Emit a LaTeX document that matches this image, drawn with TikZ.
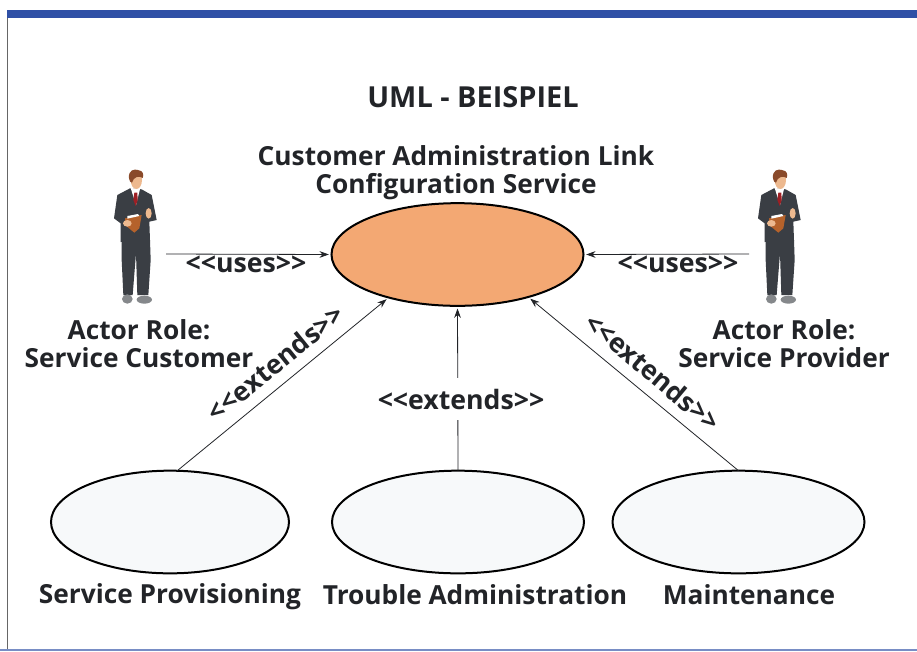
\documentclass[tikz,border=0pt]{standalone}
\usepackage{fontspec}
\setmainfont{Open Sans}
\usetikzlibrary{arrows.meta,shapes.geometric}
\definecolor{ink}{HTML}{222428}
\definecolor{barblue}{HTML}{2F50A6}
\definecolor{mainfill}{HTML}{F3A873}
\definecolor{subfill}{HTML}{F7F9FA}
\definecolor{suit}{HTML}{3A3E44}
\definecolor{skin}{HTML}{EDB98F}
\definecolor{hair}{HTML}{8A4A2A}
\definecolor{folder}{HTML}{B5622B}
\definecolor{tie}{HTML}{9E1F24}
\definecolor{shoe}{HTML}{85888B}
\newcommand{\stereotxt}[1]{<\kern0pt<#1>\kern0pt>}
\tikzset{
  x=0.75pt,y=-0.75pt,
  usecase/.style={draw=black,line width=1.5pt,ellipse,inner sep=0pt,outer sep=0pt,minimum width=189pt,minimum height=77pt},
  title/.style={font=\fontsize{19.7}{21}\selectfont\bfseries,text=ink,align=center,inner sep=0pt},
  label/.style={font=\fontsize{19.7}{21}\selectfont\bfseries,text=ink,align=center,inner sep=0pt},
  stereo/.style={font=\fontsize{20}{22}\selectfont\bfseries,text=ink,inner sep=0pt},
  link/.style={draw=ink,line width=0.6pt,-{Stealth[length=7pt,width=5pt]},shorten >=2pt},
  man/.pic={
    \begin{scope}[x=0.25pt,y=-0.25pt]
      \fill[suit] (-43,270)--(42,270)--(44,330)--(37,435)--(4,435)--(0,310)--(-10,435)--(-38,435)--(-43,330)--cycle;
      \fill[shoe] (-26,447) ellipse (16 and 14);
      \fill[shoe] (25,449) ellipse (23 and 12);
      \fill[suit] (-18,115)--(17,118)--(47,135)--(62,210)--(40,215)--(42,272)--(-46,276)--(-46,220)--(-66,205)--(-56,135)--cycle;
      \fill[white] (-16,114)--(12,117)--(0,165)--cycle;
      \fill[tie] (-5,128)--(4,128)--(5,150)--(-1,168)--(-8,150)--cycle;
      \fill[skin] (1,90) ellipse (17 and 27);
      \fill[hair] (-21,85) .. controls (-24,60) and (-5,56) .. (6,60) .. controls (22,62) and (24,74) .. (20,84) .. controls (10,76) and (-8,80) .. (-12,98) .. controls (-16,98) and (-20,94) .. (-21,85) -- cycle;
      \fill[folder] (-33,205)--(17,195)--(10,235)--(-5,248)--(-33,225)--cycle;
      \fill[white] (-26,198)--(6,192)--(10,198)--(-26,206)--cycle;
      \fill[skin] (-26,220) ellipse (13 and 10);
      \fill[skin] (38,190) ellipse (9 and 16);
    \end{scope}
  }
}
\begin{document}
\begin{tikzpicture}
\useasboundingbox (0,0) rectangle (917,651);
\fill[white] (0,0) rectangle (917,651);
\fill[barblue] (7,10) rectangle (917,18);
\fill[gray!80!black] (6.5,18) rectangle (8,650);
\fill[barblue!65] (0,649) rectangle (917,651);

\node[usecase,fill=mainfill] (main) at (457.5,254.5) {};
\node[usecase,fill=subfill,minimum width=178.5pt] (prov) at (170,522) {};
\node[usecase,fill=subfill] (trouble) at (458,522) {};
\node[usecase,fill=subfill] (maint) at (738.5,522) {};

\node[title,font=\fontsize{21.7}{24}\selectfont\bfseries] (head) at (473,97) {UML - BEISPIEL};
\node[title] (cust) at (456,173) {Customer Administration Link\\Configuration Service};

\pic at (136,150) {man};
\begin{scope}[xscale=-1,xshift=-1560*0.75pt]
\pic at (780,150) {man};
\end{scope}
\coordinate (leftactor) at (166,254);
\coordinate (rightactor) at (749,254);

\node[label] (lrole) at (139,344) {Actor Role:\\Service Customer};
\node[label] (rrole) at (784,344) {Actor Role:\\Service Provider};
\node[label] (lprov) at (170,597) {Service Provisioning};
\node[label] (ltrouble) at (475,595) {Trouble Administration};
\node[label] (lmaint) at (749,595) {Maintenance};

\draw[link] (leftactor) -- (main.west);
\draw[link] (rightactor) -- (main.east);
\draw[link] (prov.82) -- (main.212);
\draw[link] (trouble.north) -- (main.south);
\draw[link] (maint.north) -- (main.-31);

\node[stereo] (u1) at (246,264) {\stereotxt{uses}};
\node[stereo] (u2) at (678,264) {\stereotxt{uses}};
\node[stereo,rotate=39] (e1) at (275,363) {\stereotxt{extends}};
\node[stereo,rotate=-40] (e3) at (653,372) {\stereotxt{extends}};
\node[stereo,fill=white,minimum height=31.5pt] (e2) at (461,399) {\stereotxt{extends}};
\end{tikzpicture}
\end{document}
